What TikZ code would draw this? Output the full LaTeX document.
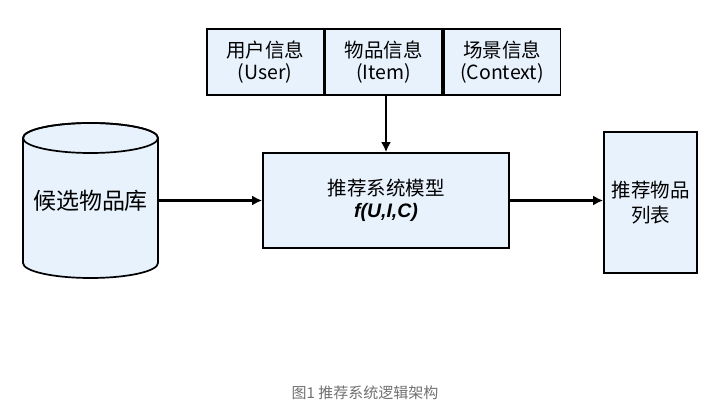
\documentclass[tikz,border=0pt]{standalone}
\usepackage{fontspec}
\setmainfont{Noto Sans CJK SC}
\newfontfamily\formulafont{Liberation Sans}
\usepackage{tikz}
\usetikzlibrary{calc,arrows.meta,positioning}
\definecolor{boxfill}{RGB}{232,242,253}
\definecolor{captiongray}{RGB}{112,112,112}

\begin{document}
\begin{tikzpicture}[x=1pt,y=1pt,
    box/.style={draw=black,line width=1.7pt,fill=boxfill,align=center,inner sep=0pt},
    infobox/.style={box,minimum width=116.7pt,minimum height=66pt,font=\fontsize{19.5}{22}\selectfont},
    flow/.style={-{Latex[length=10pt,width=10pt]},line width=2.8pt}]
                 \useasboundingbox (0,0) rectangle (718,418);
                 \node[infobox](user)at(265.2,356){用户信息\\(User)};
                 \node[infobox,right=0pt of user](item){物品信息\\(Item)};
                 \node[infobox,right=0pt of item](context){场景信息\\(Context)};
                 \node[box,minimum width=246pt,minimum height=95pt,font=\fontsize{19.5}{22}\selectfont](model)at(386,217.5){推荐系统模型\\{\formulafont\bfseries\itshape f(U,I,C)}};
                 \node[box,minimum width=93pt,minimum height=141pt,font=\fontsize{19.5}{25}\selectfont](list)at(650.5,215.5){推荐物品\\列表};
                 \filldraw[draw=black,line width=1.7pt,fill=boxfill](23,280)--(23,155)arc[start angle=180,end angle=360,x radius=67.5,y radius=15]--(158,280)arc[start angle=0,end angle=180,x radius=67.5,y radius=15]--cycle;
                 \draw[line width=1.7pt](90.5,280)ellipse[x radius=67.5,y radius=15];
                 \node[minimum width=135pt,minimum height=155pt,inner sep=0pt,font=\fontsize{23}{26}\selectfont](pool)at(90.5,217.5){候选物品库};
                 \draw[flow](model.north|-item.south)--(model.north);
                 \draw[flow](pool.east)--(model.west);
                 \draw[flow](model.east)--(list.west|-model.east);
                 \node[text=captiongray,font=\fontsize{15}{18}\selectfont](caption)at(365,25){图1 推荐系统逻辑架构};
               \end{tikzpicture}
\end{document}
